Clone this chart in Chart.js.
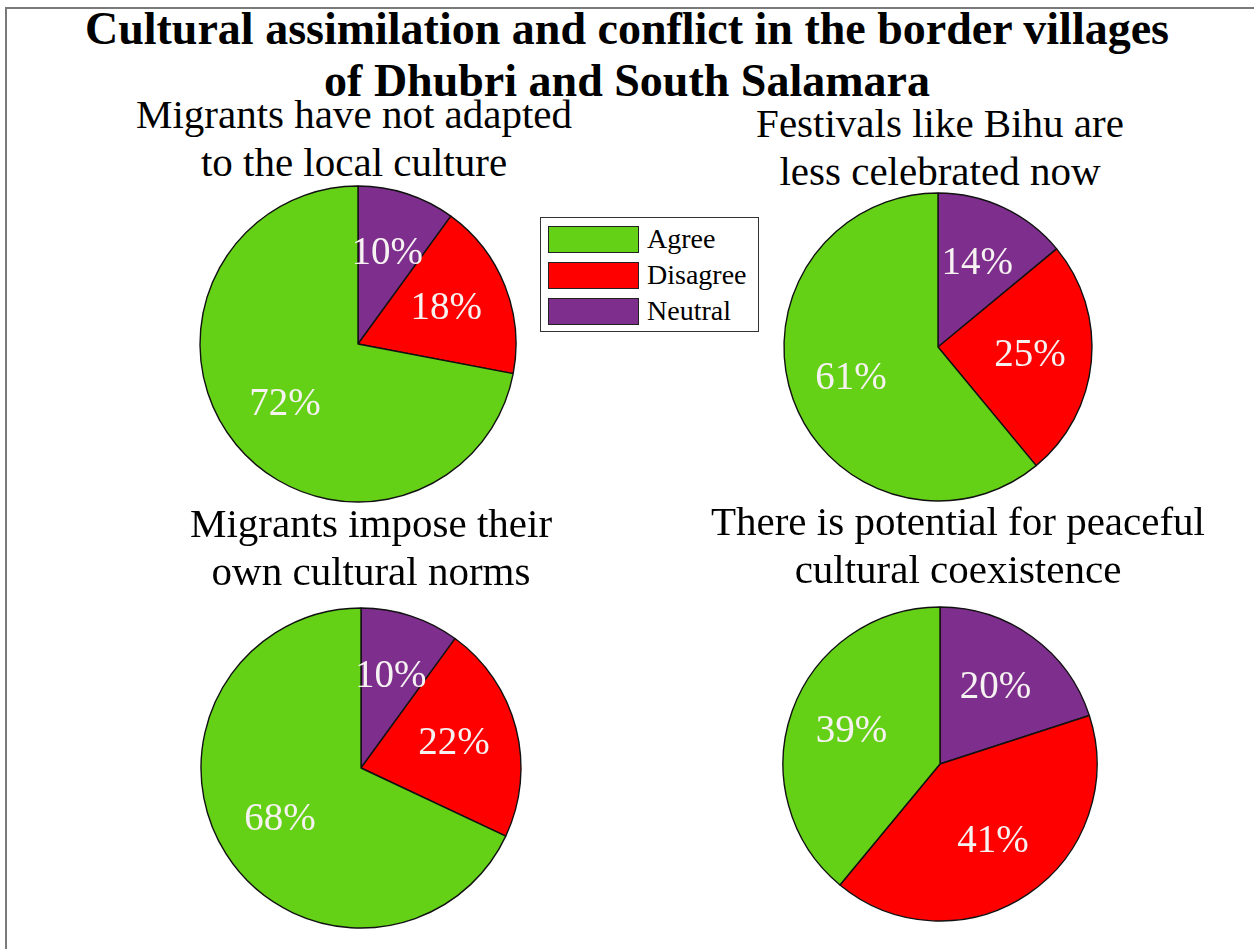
<!DOCTYPE html>
<html>
<head>
<meta charset="utf-8">
<title>Cultural assimilation and conflict</title>
<script src="https://cdn.jsdelivr.net/npm/chart.js@4.4.1/dist/chart.umd.min.js"></script>
<style>
  html, body { margin: 0; padding: 0; background: #fff; }
  #page {
    position: relative; width: 1254px; height: 949px; overflow: hidden;
    font-family: 'Liberation Serif', 'Times New Roman', serif; color: #000;
  }
  #frame {
    position: absolute; left: 5px; top: 7px; width: 1260px; height: 960px;
    border-left: 2px solid #7a7a7a; border-top: 2px solid #7a7a7a;
  }
  #mainTitle {
    position: absolute; left: 0; top: 3px; width: 1254px; text-align: center;
    font-weight: bold; font-size: 46px; line-height: 52px;
  }
  .panelTitle {
    position: absolute; width: 600px; text-align: center;
    font-size: 41px; line-height: 48px; white-space: nowrap;
  }
  .pie { position: absolute; }
  #legend {
    position: absolute; left: 540px; top: 217px; width: 219px; height: 115px;
    border: 1px solid #333; background: #fff; box-sizing: border-box;
  }
  .legendRow { position: absolute; left: 7px; height: 27px; }
  .swatch {
    position: absolute; left: 0; top: 0; width: 89px; height: 25px;
    border: 1px solid #222;
  }
  .legendText {
    position: absolute; left: 99px; top: -4px; font-size: 28px; line-height: 34px;
    white-space: nowrap;
  }
</style>
</head>
<body>
<div id="page">
  <div id="frame"></div>
  <div id="mainTitle">Cultural assimilation and conflict in the border villages<br>of Dhubri and South Salamara</div>
  <div id="legend"></div>
</div>
<script>
// survey categories (legend order) and slice colours
const categories = ['Agree', 'Disagree', 'Neutral'];
const categoryColors = ['#64d116', '#ff0000', '#7e2f8e'];

// percentage of respondents per statement, in category order
const adaptValues = [72, 18, 10];
const festivalValues = [61, 25, 14];
const imposeValues = [68, 22, 10];
const coexistValues = [39, 41, 20];

const panelTitles = [
  ['Migrants have not adapted', 'to the local culture'],
  ['Festivals like Bihu are', 'less celebrated now'],
  ['Migrants impose their', 'own cultural norms'],
  ['There is potential for peaceful', 'cultural coexistence']
];

// pie centre, radius and title placement for each panel
const panels = [
  { values: adaptValues,    cx: 358, cy: 344, r: 158, tx: 354, ty: 90 },
  { values: festivalValues, cx: 938, cy: 347, r: 154, tx: 940, ty: 99 },
  { values: imposeValues,   cx: 361, cy: 768, r: 160, tx: 371, ty: 499 },
  { values: coexistValues,  cx: 940, cy: 764, r: 157, tx: 958, ty: 497 }
];

// writes "NN%" inside every slice
const percentLabels = {
  id: 'percentLabels',
  afterDatasetsDraw(chart) {
    const ctx = chart.ctx;
    const meta = chart.getDatasetMeta(0);
    const data = chart.data.datasets[0].data;
    ctx.save();
    ctx.font = '39px "Liberation Serif", "Times New Roman", serif';
    ctx.fillStyle = '#f7f2f2';
    ctx.textAlign = 'center';
    ctx.textBaseline = 'middle';
    meta.data.forEach((arc, i) => {
      const p = arc.getProps(['x', 'y', 'startAngle', 'endAngle', 'outerRadius'], true);
      const mid = (p.startAngle + p.endAngle) / 2;
      const d = p.outerRadius * 0.6;
      ctx.fillText(data[i] + '%', p.x + Math.cos(mid) * d, p.y + Math.sin(mid) * d);
    });
    ctx.restore();
  }
};

const page = document.getElementById('page');

panels.forEach((panel, k) => {
  const title = document.createElement('div');
  title.className = 'panelTitle';
  title.style.left = (panel.tx - 300) + 'px';
  title.style.top = panel.ty + 'px';
  title.innerHTML = panelTitles[k].join('<br>');
  page.appendChild(title);

  const size = 2 * panel.r + 8;
  const canvas = document.createElement('canvas');
  canvas.className = 'pie';
  canvas.width = size;
  canvas.height = size;
  canvas.style.left = (panel.cx - size / 2) + 'px';
  canvas.style.top = (panel.cy - size / 2) + 'px';
  page.appendChild(canvas);

  // slices run clockwise from 12 o'clock: Neutral, Disagree, Agree
  const order = [2, 1, 0];
  new Chart(canvas.getContext('2d'), {
    type: 'pie',
    data: {
      labels: order.map(i => categories[i]),
      datasets: [{
        data: order.map(i => panel.values[i]),
        backgroundColor: order.map(i => categoryColors[i]),
        borderColor: '#111',
        borderWidth: 1.4
      }]
    },
    options: {
      responsive: false,
      animation: false,
      radius: panel.r,
      rotation: 0,
      layout: { padding: 0 },
      plugins: { legend: { display: false }, tooltip: { enabled: false }, title: { display: false } }
    },
    plugins: [percentLabels]
  });
});

// legend box, built from the category list
const legend = document.getElementById('legend');
categories.forEach((name, i) => {
  const row = document.createElement('div');
  row.className = 'legendRow';
  row.style.top = (8 + i * 36) + 'px';
  row.innerHTML = '<div class="swatch" style="background:' + categoryColors[i] + '"></div>' +
    '<div class="legendText">' + name + '</div>';
  legend.appendChild(row);
});
</script>
</body>
</html>
